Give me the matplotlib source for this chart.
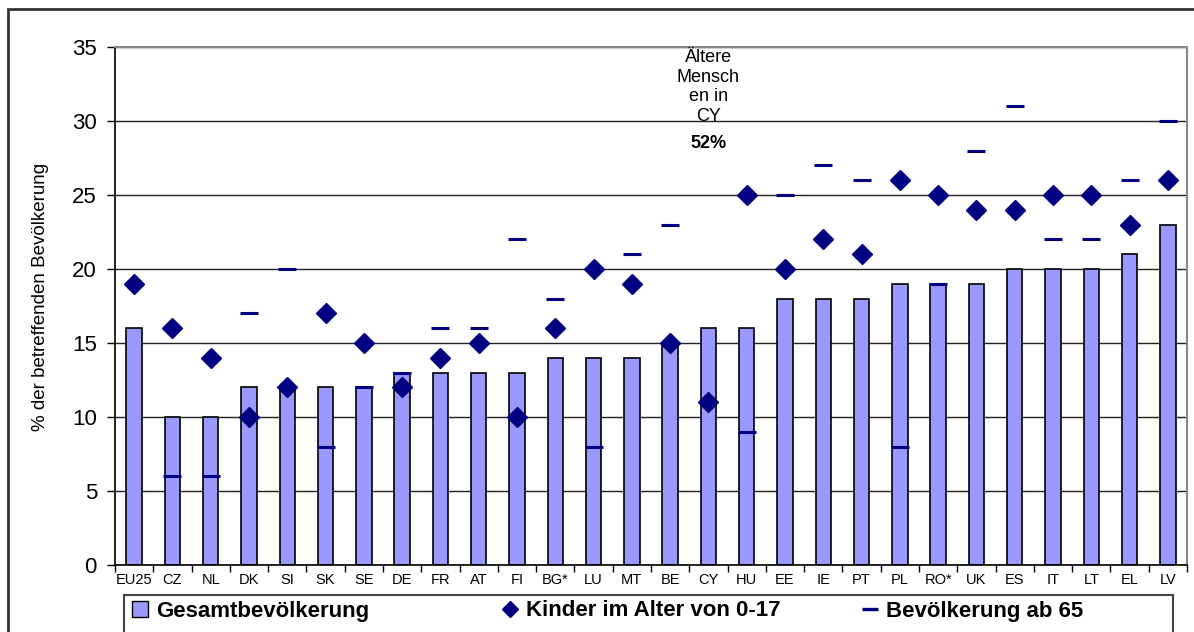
import numpy as np
import matplotlib
matplotlib.use('Agg')
import matplotlib.pyplot as plt
from matplotlib.lines import Line2D
from matplotlib.patches import Patch, Rectangle

plt.rcParams['font.family'] = ['Liberation Sans', 'DejaVu Sans']

# ==========================================
# DATA
# ==========================================
countries = ['EU25', 'CZ', 'NL', 'DK', 'SI', 'SK', 'SE', 'DE', 'FR', 'AT', 'FI',
             'BG*', 'LU', 'MT', 'BE', 'CY', 'HU', 'EE', 'IE', 'PT', 'PL', 'RO*',
             'UK', 'ES', 'IT', 'LT', 'EL', 'LV']
gesamt = [16, 10, 10, 12, 12, 12, 12, 13, 13, 13, 13, 14, 14, 14, 15, 16, 16,
          18, 18, 18, 19, 19, 19, 20, 20, 20, 21, 23]
kinder = [19, 16, 14, 10, 12, 17, 15, 12, 14, 15, 10, 16, 20, 19, 15, 11, 25,
          20, 22, 21, 26, 25, 24, 24, 25, 25, 23, 26]
ab65 = [19, 6, 6, 17, 20, 8, 12, 13, 16, 16, 22, 18, 8, 21, 23, 52, 9,
        25, 27, 26, 8, 19, 28, 31, 22, 22, 26, 30]
yticks = [0, 5, 10, 15, 20, 25, 30, 35]
labels = ['Gesamtbevölkerung', 'Kinder im Alter von 0-17', 'Bevölkerung ab 65']

bar_col = '#9999FF'
mark_col = '#000080'

W, H = 1194, 632


def fx(px):
    return px / W


def fy(py):
    return 1 - py / H


# ==========================================
# FIGURE
# ==========================================
fig = plt.figure(figsize=(W / 100, H / 100), dpi=100)
ax = fig.add_axes([fx(115), fy(565), fx(1187 - 115), (565 - 47) / H])

x = np.arange(len(countries))
ax.bar(x, gesamt, width=0.4, color=bar_col, edgecolor='black', linewidth=1.2, zorder=2)
ax.plot(x, kinder, linestyle='none', marker='D', markersize=10,
        color=mark_col, zorder=4)
ax.plot(x, ab65, linestyle='none', marker='_', markersize=13, markeredgewidth=2.2,
        color=mark_col, zorder=3)

ax.set_xlim(-0.5, len(countries) - 0.5)
ax.set_ylim(0, 35)
ax.set_yticks(yticks)
ax.tick_params(axis='y', labelsize=16, direction='out', length=6, width=1, pad=7)
ax.set_xticks(x)
ax.set_xticklabels(countries, fontsize=10.5)
ax.tick_params(axis='x', length=0, pad=6)
ax.set_xticks(np.arange(len(countries) + 1) - 0.5, minor=True)
ax.tick_params(axis='x', which='minor', direction='out', length=5, width=1)
ax.yaxis.grid(True, color='#222222', linewidth=1)
ax.set_axisbelow(True)
for side in ['top', 'right']:
    ax.spines[side].set_color('#888888')
    ax.spines[side].set_linewidth(1.5)
ax.spines['left'].set_linewidth(1.2)
ax.spines['bottom'].set_linewidth(1.2)

ax.set_ylabel('% der betreffenden Bevölkerung', fontsize=13.5)
ax.yaxis.set_label_coords(-0.062, 0.517)

# note for the off-scale CY value
cy = countries.index('CY')
ax.text(cy, 32.3, 'Ältere\nMensch\nen in\nCY', ha='center', va='center',
        fontsize=13, linespacing=1.2, zorder=5)
ax.text(cy, 28.5, f'{ab65[cy]}%', ha='center', va='center',
        fontsize=13, fontweight='bold', zorder=5)

# legend: framed box with three entries spread evenly
fig.patches.append(Rectangle((fx(124), fy(640)), fx(1173 - 124), (640 - 595) / H,
                             transform=fig.transFigure, fill=False,
                             edgecolor='#444444', linewidth=1.5))
handles = [Patch(facecolor=bar_col, edgecolor='black', linewidth=1),
           Line2D([], [], linestyle='none', marker='D', markersize=8, color=mark_col),
           Line2D([], [], linestyle='none', marker='_', markersize=11,
                  markeredgewidth=2.4, color=mark_col)]
starts = [132, 502, 862]
for h, lab, sx in zip(handles, labels, starts):
    fig.legend([h], [lab], loc='center left',
               bbox_to_anchor=(fx(sx), fy(611)),
               prop={'weight': 'bold', 'size': 16},
               frameon=False, handlelength=0.7, handletextpad=0.4,
               borderpad=0, borderaxespad=0)

# outer border (only top and left are within the image)
fig.patches.append(Rectangle((fx(8), fy(700)), fx(1300), (700 - 9) / H,
                             transform=fig.transFigure, fill=False,
                             edgecolor='#333333', linewidth=2))

fig.savefig('out.png', dpi=100)
